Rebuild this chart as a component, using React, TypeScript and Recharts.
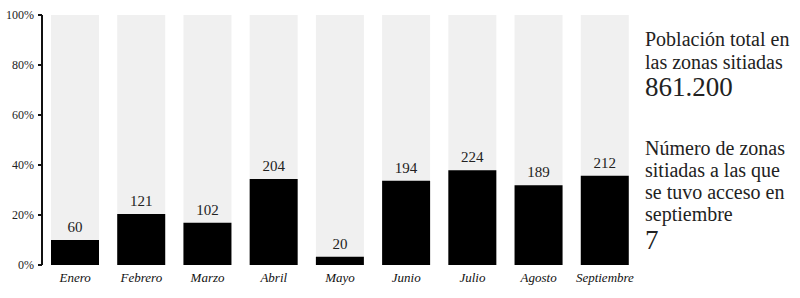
import React from 'react';
import { BarChart, Bar, XAxis, YAxis, LabelList } from 'recharts';

// meses, zonas sitiadas con acceso y su porcentaje sobre el total
const months = ['Enero', 'Febrero', 'Marzo', 'Abril', 'Mayo', 'Junio', 'Julio', 'Agosto', 'Septiembre'];
const accessCounts = [60, 121, 102, 204, 20, 194, 224, 189, 212];
const accessShare = [10, 20.4, 16.9, 34.4, 3.3, 33.7, 37.9, 31.9, 35.7];
const yTicks = [0, 20, 40, 60, 80, 100];

const serif = "'Liberation Serif', 'Times New Roman', serif";

const App: React.FC = () => {
    const data = months.map((month, i) => ({
        month,
        count: accessCounts[i],
        share: accessShare[i],
    }));

    return (
        <div style={{ position: 'absolute', left: 0, top: 0, width: 800, height: 298, background: '#fff', fontFamily: serif }}>
            <BarChart
                width={640}
                height={298}
                data={data}
                margin={{ top: 15, right: 2, left: 0, bottom: 0 }}
                barCategoryGap={9}
            >
                <XAxis
                    dataKey="month"
                    height={33}
                    axisLine={false}
                    tickLine={false}
                    interval={0}
                    tick={{ fill: '#111', fontSize: 13, fontStyle: 'italic', fontFamily: serif }}
                />
                <YAxis
                    width={42}
                    domain={[0, 100]}
                    ticks={yTicks}
                    tickFormatter={(v: number) => `${v}%`}
                    axisLine={{ stroke: '#111', strokeWidth: 2 }}
                    tickLine={{ stroke: '#111', strokeWidth: 2 }}
                    tickSize={4}
                    tickMargin={4}
                    tick={{ fill: '#222', fontSize: 12, fontFamily: serif }}
                />
                <Bar dataKey="share" fill="#000" background={{ fill: '#f0f0f0' }} isAnimationActive={false}>
                    <LabelList dataKey="count" position="top" offset={8} fill="#222" fontSize={15} fontFamily={serif} />
                </Bar>
            </BarChart>
            <div style={{ position: 'absolute', left: 645, top: 28, color: '#222', fontSize: 20, lineHeight: '23px' }}>
                <div>Población total en</div>
                <div>las zonas sitiadas</div>
                <div style={{ fontSize: 27, lineHeight: '27px' }}>861.200</div>
            </div>
            <div style={{ position: 'absolute', left: 645, top: 137, color: '#222', fontSize: 20, lineHeight: '22px' }}>
                <div>Número de zonas</div>
                <div>sitiadas a las que</div>
                <div>se tuvo acceso en</div>
                <div>septiembre</div>
                <div style={{ fontSize: 27, lineHeight: '30px' }}>7</div>
            </div>
        </div>
    );
};

export default App;
